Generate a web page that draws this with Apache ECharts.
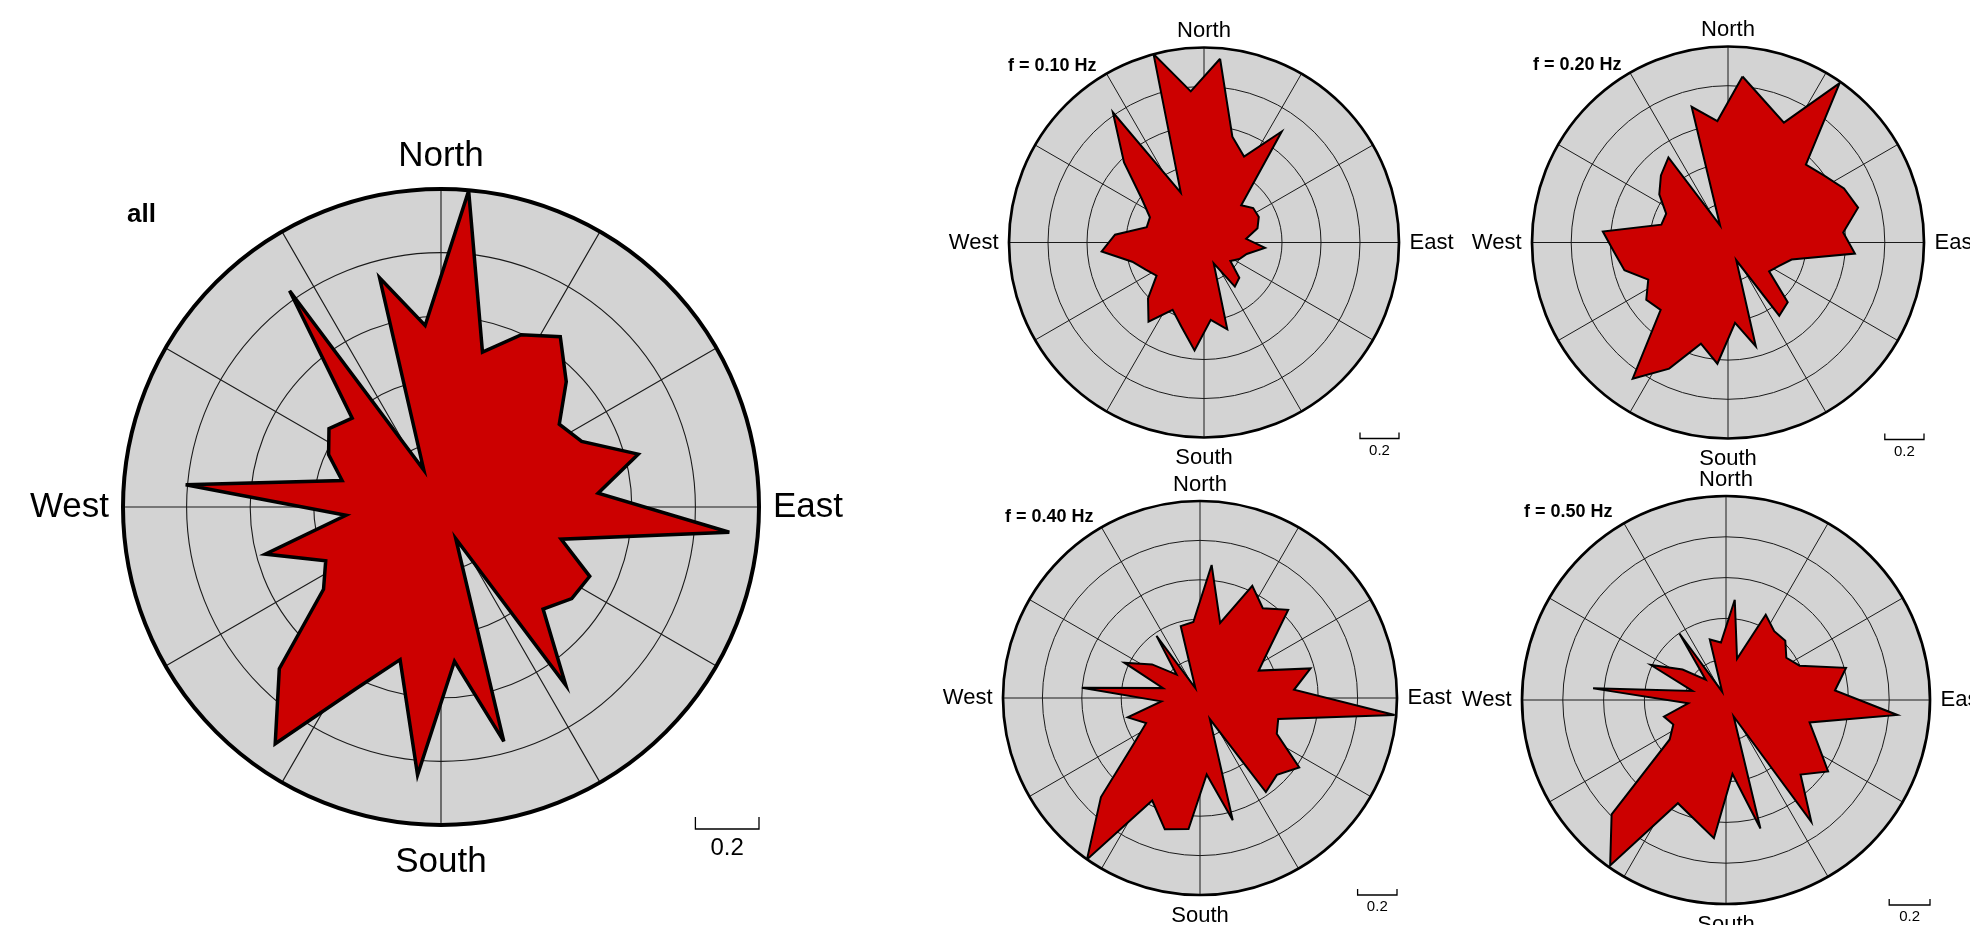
<!DOCTYPE html>
<html>
<head>
<meta charset="utf-8">
<script src="https://cdn.jsdelivr.net/npm/echarts@6/dist/echarts.min.js"></script>
<style>
  html, body { margin: 0; padding: 0; background: #ffffff; }
  #chart { width: 1970px; height: 925px; }
</style>
</head>
<body>
<div id="chart"></div>
<script>
// Back-azimuth bin centres, degrees clockwise from North (10° bins)
const azimuths = [5, 15, 25, 35, 45, 55, 65, 75, 85, 95, 105, 115, 125, 135, 145, 155, 165, 175,
                  185, 195, 205, 215, 225, 235, 245, 255, 265, 275, 285, 295, 305, 315, 325, 335, 345, 355];

// Normalised amplitude per bin: all frequencies combined
const ampAll = [0.998, 0.504, 0.598, 0.654, 0.557, 0.454, 0.488, 0.642, 0.496, 0.910, 0.391, 0.516,
                0.502, 0.454, 0.684, 0.110, 0.763, 0.487, 0.846, 0.497, 0.630, 0.909, 0.719, 0.451,
                0.400, 0.572, 0.300, 0.806, 0.322, 0.390, 0.430, 0.395, 0.830, 0.128, 0.746, 0.573];

// f = 0.10 Hz
const amp010 = [0.946, 0.562, 0.486, 0.695, 0.270, 0.308, 0.310, 0.284, 0.217, 0.314, 0.227, 0.200,
                0.165, 0.256, 0.276, 0.118, 0.461, 0.398, 0.556, 0.447, 0.381, 0.496, 0.406, 0.297,
                0.330, 0.381, 0.527, 0.458, 0.304, 0.306, 0.389, 0.580, 0.815, 0.282, 1.000, 0.778];

// f = 0.20 Hz
const amp020 = [0.850, 0.741, 0.675, 0.993, 0.562, 0.597, 0.653, 0.687, 0.590, 0.650, 0.336, 0.285,
                0.256, 0.431, 0.456, 0.100, 0.549, 0.412, 0.621, 0.534, 0.710, 0.848, 0.486, 0.509,
                0.449, 0.547, 0.582, 0.641, 0.352, 0.348, 0.428, 0.484, 0.530, 0.096, 0.717, 0.622];

// f = 0.40 Hz
const amp040 = [0.678, 0.395, 0.628, 0.556, 0.633, 0.425, 0.329, 0.581, 0.479, 0.992, 0.411, 0.430,
                0.615, 0.552, 0.583, 0.118, 0.642, 0.390, 0.668, 0.690, 0.574, 1.000, 0.711, 0.414,
                0.302, 0.380, 0.197, 0.602, 0.194, 0.424, 0.297, 0.168, 0.385, 0.056, 0.378, 0.387];

// f = 0.50 Hz
const amp050 = [0.493, 0.209, 0.461, 0.412, 0.411, 0.361, 0.398, 0.609, 0.536, 0.843, 0.424, 0.494,
                0.611, 0.517, 0.729, 0.089, 0.652, 0.364, 0.680, 0.604, 0.558, 0.990, 0.793, 0.337,
                0.285, 0.315, 0.186, 0.654, 0.170, 0.406, 0.260, 0.141, 0.398, 0.045, 0.307, 0.283];

const panelTitles = ['all', 'f = 0.10 Hz', 'f = 0.20 Hz', 'f = 0.40 Hz', 'f = 0.50 Hz'];
const panelData = [ampAll, amp010, amp020, amp040, amp050];

// Compass labels on the angle axis
const compassAngles = [0, 90, 180, 270];
const compassNames = ['North', 'East', 'South', 'West'];
const compassStyles = ['n', 'e', 's', 'w'];

// Radial scale: rings every 0.2 up to 1.0, scale bar of 0.2
const radiusMax = 1.0;
const ringStep = 0.2;
const scaleBarValue = 0.2;
const scaleBarLabel = '0.2';

const FONT = '"Liberation Sans", Arial, Helvetica, sans-serif';
const GREY = '#d3d3d3';
const RED = '#cc0000';

// Panel layout; pad = extra outward offset of the North/East/South/West labels
const panels = [
  { cx: 441,  cy: 507,   r: 318, labelSize: 35, labelMargin: 14, pad: { n: 1, e: 0, s: 6, w: 0 },
    rim: 4, outline: 3.5, grid: 1.1,
    titleX: 127,  titleY: 215,   titleSize: 26, barTick: 12, barOffset: 4, barFont: 24, barTextGap: 19 },
  { cx: 1204, cy: 242.5, r: 195, labelSize: 22, labelMargin: 5.5, pad: { n: 0, e: 5, s: 4, w: 5 },
    rim: 2.7, outline: 2, grid: 1,
    titleX: 1008, titleY: 66,    titleSize: 18, barTick: 6,  barOffset: 1, barFont: 15, barTextGap: 12 },
  { cx: 1728, cy: 242.5, r: 196, labelSize: 22, labelMargin: 5.5, pad: { n: 0, e: 5, s: 4, w: 5 },
    rim: 2.7, outline: 2, grid: 1,
    titleX: 1533, titleY: 65.5,  titleSize: 18, barTick: 6,  barOffset: 1, barFont: 15, barTextGap: 12 },
  { cx: 1200, cy: 698,   r: 197, labelSize: 22, labelMargin: 5.5, pad: { n: 0, e: 5, s: 4, w: 5 },
    rim: 2.7, outline: 2, grid: 1,
    titleX: 1005, titleY: 517.5, titleSize: 18, barTick: 6,  barOffset: 0, barFont: 15, barTextGap: 12 },
  { cx: 1726, cy: 700,   r: 204, labelSize: 22, labelMargin: 5.5, pad: { n: 0, e: 5, s: 4, w: 5 },
    rim: 2.7, outline: 2, grid: 1,
    titleX: 1524, titleY: 512.5, titleSize: 18, barTick: 6,  barOffset: 1, barFont: 15, barTextGap: 12 }
];

function compassFormatter(v) {
  const k = compassAngles.indexOf(v);
  return k >= 0 ? '{' + compassStyles[k] + '|' + compassNames[k] + '}' : '';
}

function compassRich(p) {
  const base = { fontSize: p.labelSize, fontFamily: FONT, color: '#000' };
  return {
    n: Object.assign({ padding: [0, 0, p.pad.n, 0] }, base),
    e: Object.assign({ padding: [0, 0, 0, p.pad.e] }, base),
    s: Object.assign({ padding: [p.pad.s, 0, 0, 0] }, base),
    w: Object.assign({ padding: [0, p.pad.w, 0, 0] }, base)
  };
}

const chart = echarts.init(document.getElementById('chart'), null, { renderer: 'canvas' });

const option = {
  animation: false,
  backgroundColor: '#ffffff',
  textStyle: { fontFamily: FONT },
  polar: panels.map(p => ({ center: [p.cx, p.cy], radius: p.r })),
  angleAxis: panels.map((p, i) => ({
    polarIndex: i,
    type: 'value',
    min: 0,
    max: 360,
    interval: 30,
    startAngle: 90,
    clockwise: true,
    z: 1,
    axisLine: { show: true, lineStyle: { color: '#000', width: p.rim } },
    axisTick: { show: false },
    axisLabel: {
      show: true,
      margin: p.labelMargin,
      color: '#000',
      fontSize: p.labelSize,
      fontFamily: FONT,
      formatter: compassFormatter,
      rich: compassRich(p)
    },
    splitLine: { show: true, lineStyle: { color: '#1a1a1a', width: p.grid } },
    splitArea: { show: false }
  })),
  radiusAxis: panels.map((p, i) => ({
    polarIndex: i,
    type: 'value',
    min: 0,
    max: radiusMax,
    interval: ringStep,
    z: 1,
    axisLine: { show: false },
    axisTick: { show: false },
    axisLabel: { show: false },
    splitLine: { show: true, lineStyle: { color: '#1a1a1a', width: p.grid } },
    splitArea: { show: false }
  })),
  series: panels.map((p, i) => {
    const values = panelData[i];
    const pts = azimuths.map((a, k) => [values[k], a]);
    pts.push([values[0], azimuths[0]]); // close the rose outline
    return {
      type: 'line',
      name: panelTitles[i],
      coordinateSystem: 'polar',
      polarIndex: i,
      data: pts,
      symbol: 'none',
      smooth: false,
      silent: true,
      clip: false,
      z: 3,
      lineStyle: { color: '#000', width: p.outline, join: 'miter', miterLimit: 6 },
      areaStyle: { color: RED, opacity: 1 }
    };
  })
};

chart.setOption(option);

// Grey discs, panel titles and 0.2 scale bars, placed from each polar system's own scale
const graphics = [];
panels.forEach((p, i) => {
  const c = chart.convertToPixel({ seriesIndex: i }, [0, 0]);
  const east = chart.convertToPixel({ seriesIndex: i }, [radiusMax, 90]);
  const south = chart.convertToPixel({ seriesIndex: i }, [radiusMax, 180]);
  const barPt = chart.convertToPixel({ seriesIndex: i }, [scaleBarValue, 90]);
  const R = east[0] - c[0];
  const barLen = barPt[0] - c[0];

  graphics.push({
    type: 'circle', z: -10, silent: true,
    shape: { cx: c[0], cy: c[1], r: R },
    style: { fill: GREY, stroke: null }
  });

  graphics.push({
    type: 'text', z: 10, silent: true,
    x: p.titleX, y: p.titleY,
    style: {
      text: panelTitles[i], fill: '#000',
      font: 'bold ' + p.titleSize + 'px ' + FONT,
      align: 'left', verticalAlign: 'middle',
      textAlign: 'left', textVerticalAlign: 'middle'
    }
  });

  const x2 = east[0];
  const x1 = x2 - barLen;
  const y = south[1] + p.barOffset;
  graphics.push({
    type: 'polyline', z: 10, silent: true,
    shape: { points: [[x1, y - p.barTick], [x1, y], [x2, y], [x2, y - p.barTick]] },
    style: { stroke: '#000', lineWidth: 1.3, fill: null }
  });
  graphics.push({
    type: 'text', z: 10, silent: true,
    x: (x1 + x2) / 2, y: y + p.barTextGap,
    style: {
      text: scaleBarLabel, fill: '#000',
      font: p.barFont + 'px ' + FONT,
      align: 'center', verticalAlign: 'middle',
      textAlign: 'center', textVerticalAlign: 'middle'
    }
  });
});

chart.setOption({ graphic: { elements: graphics } });
</script>
</body>
</html>
